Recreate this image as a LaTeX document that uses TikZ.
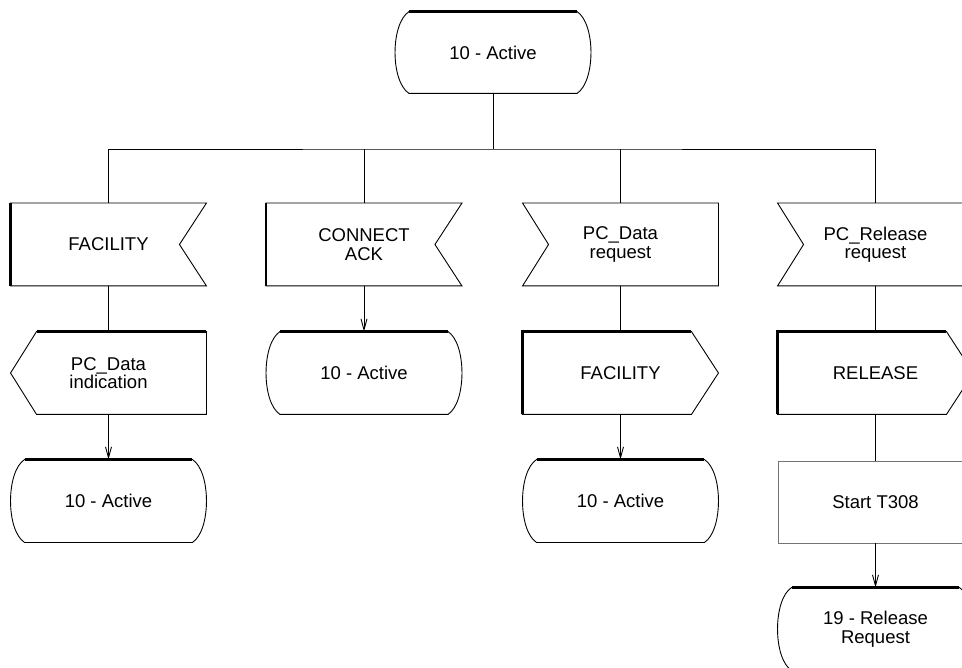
\documentclass[tikz,border=0pt]{standalone}
\usepackage{fontspec}
\setmainfont{Liberation Sans}
\usetikzlibrary{arrows.meta}
\newcommand\sdlfont{\fontsize{18.5}{18.5}\selectfont}

\tikzset{
	sdl/.style={minimum width=195pt, minimum height=82pt, inner sep=0pt, align=center, font=\sdlfont},
	heavy/.style={line width=2.2pt},
	flow/.style={-{Straight Barb[length=11pt,width=6pt]}},
	% state: straight top and bottom, bulging sides
	state/.style={sdl, append after command={\pgfextra{\let\sdlnode\tikzlastnode
		\draw ([xshift=14pt]\sdlnode.north west) -- ([xshift=-14pt]\sdlnode.north east)
			.. controls +(18.7pt,-12pt) and +(18.7pt,12pt) .. ([xshift=-14pt]\sdlnode.south east)
			-- ([xshift=14pt]\sdlnode.south west)
			.. controls +(-18.7pt,12pt) and +(-18.7pt,-12pt) .. ([xshift=14pt]\sdlnode.north west);
		\draw[heavy] ([xshift=14pt]\sdlnode.north west) -- ([xshift=-14pt]\sdlnode.north east);}}},
	% input, notch on the right
	inright/.style={sdl, append after command={\pgfextra{\let\sdlnode\tikzlastnode
		\draw (\sdlnode.north west) -- (\sdlnode.north east) -- ([xshift=-27pt]\sdlnode.east)
			-- (\sdlnode.south east) -- (\sdlnode.south west) -- cycle;
		\draw[heavy] (\sdlnode.north west) -- (\sdlnode.south west);}}},
	% input, notch on the left
	inleft/.style={sdl, append after command={\pgfextra{\let\sdlnode\tikzlastnode
		\draw (\sdlnode.north west) -- (\sdlnode.north east) -- (\sdlnode.south east)
			-- (\sdlnode.south west) -- ([xshift=26pt]\sdlnode.west) -- cycle;}}},
	% output, point on the left
	outleft/.style={sdl, append after command={\pgfextra{\let\sdlnode\tikzlastnode
		\draw ([xshift=26pt]\sdlnode.north west) -- (\sdlnode.north east) -- (\sdlnode.south east)
			-- ([xshift=26pt]\sdlnode.south west) -- (\sdlnode.west) -- cycle;
		\draw[heavy] ([xshift=26pt]\sdlnode.north west) -- (\sdlnode.north east);}}},
	% output, point on the right
	outright/.style={sdl, append after command={\pgfextra{\let\sdlnode\tikzlastnode
		\draw (\sdlnode.north west) -- ([xshift=-27pt]\sdlnode.north east) -- (\sdlnode.east)
			-- ([xshift=-27pt]\sdlnode.south east) -- (\sdlnode.south west) -- cycle;
		\draw[heavy] (\sdlnode.south west) -- (\sdlnode.north west) -- ([xshift=-27pt]\sdlnode.north east);}}},
	task/.style={sdl, draw=black!55},
}

\begin{document}
\begin{tikzpicture}[x=1pt, y=-1pt, line width=0.9pt]
	\useasboundingbox (0, 0) rectangle (962, 668);

	\node[state, minimum height=81pt] (act) at (493, 52.5) {10 - Active};
	\coordinate (bus) at (493, 149);

	\node[inright] (fac) at (108.5, 244.5) {FACILITY};
	\node[inright] (conack) at (364, 244.5) {CONNECT\\ACK};
	\node[inleft] (datareq) at (620.5, 244.5) {PC\_Data\\request};
	\node[inleft] (relreq) at (875.5, 244.5) {PC\_Release\\request};

	\node[outleft] (dataind) at (108.5, 373) {PC\_Data\\indication};
	\node[state] (act2) at (364, 373) {10 - Active};
	\node[outright] (facout) at (620.5, 373) {FACILITY};
	\node[outright] (rel) at (875.5, 373) {RELEASE};

	\node[state] (act1) at (108.5, 501) {10 - Active};
	\node[state] (act3) at (620.5, 501) {10 - Active};
	\node[task] (t308) at (875.5, 502) {Start T308};

	\node[state] (relst) at (875.5, 629) {19 - Release\\Request};

	\draw (act.south) -- (bus);
	\draw (fac.north) |- (bus) -| (relreq.north);
	\draw (conack.north) -- (conack.north |- bus);
	\draw (datareq.north) -- (datareq.north |- bus);

	\draw (fac) -- (dataind);
	\draw[flow] (dataind) -- (act1);
	\draw[flow] (conack) -- (act2);
	\draw (datareq) -- (facout);
	\draw[flow] (facout) -- (act3);
	\draw (relreq) -- (rel);
	\draw (rel) -- (t308);
	\draw[flow] (t308) -- (relst);
\end{tikzpicture}
\end{document}
